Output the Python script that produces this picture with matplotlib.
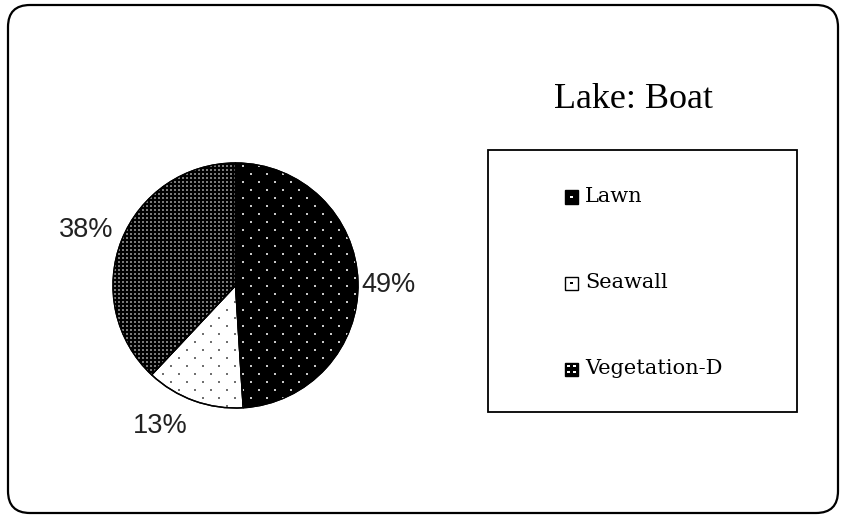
import numpy as np
import matplotlib
matplotlib.use("Agg")
import matplotlib.pyplot as plt
from matplotlib.patches import FancyBboxPatch, Rectangle, Wedge

# ---- data ----
title = "Lake: Boat"
categories = ["Lawn", "Seawall", "Vegetation-D"]
values = [49, 13, 38]
pct_labels = ["49%", "13%", "38%"]

W, H = 841, 516
DPI = 100
fig = plt.figure(figsize=(W / DPI, H / DPI), dpi=DPI)
fig.patch.set_facecolor("white")

# outer rounded frame (pixel -> inches)
frame = FancyBboxPatch((8 / DPI, 3 / DPI), (838 - 8) / DPI, (511 - 3) / DPI,
                       boxstyle="round,pad=0,rounding_size=0.22",
                       transform=fig.dpi_scale_trans, fill=False,
                       edgecolor="black", linewidth=1.6)
fig.patches.append(frame)

# pie axes: center (235.5, 285.5) px from top-left, radius 122.5 px
R = 122.5
cx, cy = 235.5, H - 285.5
half = 1.6
ax = fig.add_axes([(cx - half * R) / W, (cy - half * R) / H, 2 * half * R / W, 2 * half * R / H])

face = ["black", "white", "black"]
wedges, _ = ax.pie(values, startangle=90, counterclock=False, radius=1.0,
                   colors=face, wedgeprops=dict(edgecolor="black", linewidth=1.0))
ax.set_xlim(-half, half)
ax.set_ylim(-half, half)
ax.set_aspect("equal")
ax.axis("off")

# dot textures (pixel pitch converted to data units)
def lattice(pitch_x, pitch_y, stagger):
    px = pitch_x / R
    py = pitch_y / R
    pts = []
    rows = np.arange(-1.05, 1.05, py)
    for i, y in enumerate(rows):
        off = (px / 2) if (stagger and i % 2) else 0.0
        xs = np.arange(-1.05 + off, 1.05, px)
        pts.extend([(x, y) for x in xs])
    return np.array(pts)

tex = [
    dict(p=lattice(16, 8, True), c="#c8c8c8", s=2.2),
    dict(p=lattice(16, 8, True), c="#707070", s=2.2),
    dict(p=lattice(4, 4, False), c="#7a7a7a", s=1.6),
]
for w, t in zip(wedges, tex):
    w.set_zorder(2)
    sc = ax.scatter(t["p"][:, 0], t["p"][:, 1], s=t["s"], marker="s", c=t["c"],
                    linewidths=0, zorder=3)
    sc.set_clip_path(w)
# outline on top
for w in wedges:
    ax.add_patch(Wedge(w.center, w.r, w.theta1, w.theta2, fill=False,
                       edgecolor="black", linewidth=1.0, zorder=4))
ax.set_xlim(-half, half)
ax.set_ylim(-half, half)

# percentage labels
label_pos = [(1.029, -0.056), (-0.834, -1.207), (-1.438, 0.398)]
for (x, y), s in zip(label_pos, pct_labels):
    ax.text(x, y, s, ha="left", va="baseline", fontsize=19.5,
            family="Liberation Sans", color="#222222")

# title
fig.text(634 / W, (H - 108) / H, title, ha="center", va="baseline",
         fontsize=26, family="Liberation Serif", color="black")

# legend box
fig.patches.append(Rectangle((488 / W, (H - 412) / H), (797 - 488) / W, (412 - 150) / H,
                             transform=fig.transFigure, fill=False,
                             edgecolor="black", linewidth=1.3))
leg_y = [197, 283, 369]
for i, (lab, y) in enumerate(zip(categories, leg_y)):
    s = 13
    x0 = 565
    yb = H - y - s / 2
    fig.patches.append(Rectangle((x0 / W, yb / H), s / W, s / H, transform=fig.transFigure,
                                 facecolor=face[i], edgecolor="black", linewidth=1.0))
    if i < 2:
        dots = [(x0 + s / 2, H - y)]
        dc = "white" if i == 0 else "black"
    else:
        dots = [(x0 + s / 2 - 3, H - y - 3), (x0 + s / 2 + 3, H - y - 3),
                (x0 + s / 2 - 3, H - y + 3), (x0 + s / 2 + 3, H - y + 3)]
        dc = "white"
    for dx, dy in dots:
        fig.patches.append(Rectangle(((dx - 1.1) / W, (dy - 1.1) / H), 2.2 / W, 2.2 / H,
                                     transform=fig.transFigure, facecolor=dc,
                                     edgecolor="none"))
    fig.text(585 / W, (H - y) / H, lab, ha="left", va="center", fontsize=15,
             family="DejaVu Serif", color="black")

fig.savefig("out.png", dpi=DPI)
